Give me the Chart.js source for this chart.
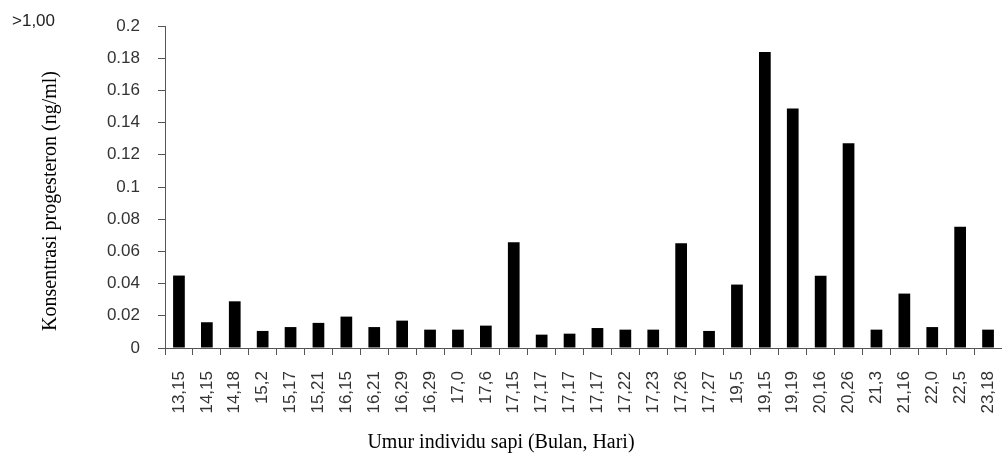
<!DOCTYPE html>
<html>
<head>
<meta charset="utf-8">
<script src="https://cdn.jsdelivr.net/npm/chart.js@4"></script>
<style>
html,body{margin:0;padding:0;background:#fff;}
#wrap{width:1002px;height:457px;position:relative;}
</style>
</head>
<body>
<div id="wrap"><canvas id="c"></canvas></div>
<script>
const categories = ['13,15','14,15','14,18','15,2','15,17','15,21','16,15','16,21','16,29','16,29','17,0','17,6','17,15','17,17','17,17','17,17','17,22','17,23','17,26','17,27','19,5','19,15','19,19','20,16','20,26','21,3','21,16','22,0','22,5','23,18'];
const progesterone = [0.045,0.016,0.029,0.0106,0.013,0.0156,0.0195,0.013,0.017,0.0114,0.0114,0.0139,0.0657,0.0083,0.0089,0.0124,0.0114,0.0114,0.065,0.0106,0.0394,0.1838,0.1487,0.0448,0.1271,0.0114,0.0338,0.013,0.0753,0.0114];
const yTickLabels = ['0','0.02','0.04','0.06','0.08','0.1','0.12','0.14','0.16','0.18','0.2'];
const yTitle = 'Konsentrasi progesteron (ng/ml)';
const xTitle = 'Umur individu sapi (Bulan, Hari)';
const cornerLabel = '>1,00';

const textPlugin = {
  id: 'texts',
  afterDraw(chart) {
    const ctx = chart.ctx;
    ctx.save();
    ctx.fillStyle = '#000';
    ctx.font = '20px "Liberation Serif", "Times New Roman", serif';
    ctx.textAlign = 'center';
    ctx.textBaseline = 'middle';
    ctx.fillText(xTitle, 501, 443);
    ctx.save();
    ctx.translate(51, 201);
    ctx.rotate(-Math.PI / 2);
    ctx.fillText(yTitle, 0, 0);
    ctx.restore();
    ctx.fillStyle = '#222';
    ctx.font = '17px "Liberation Sans", Arial, sans-serif';
    ctx.textAlign = 'left';
    ctx.textBaseline = 'alphabetic';
    ctx.fillText(cornerLabel, 12, 26);
    ctx.restore();
  }
};

new Chart(document.getElementById('c'), {
  type: 'bar',
  data: {
    labels: categories,
    datasets: [{
      data: progesterone,
      backgroundColor: '#000',
      borderWidth: 0,
      categoryPercentage: 1,
      barPercentage: 0.42
    }]
  },
  options: {
    responsive: true,
    maintainAspectRatio: false,
    animation: false,
    layout: { padding: { top: 26, left: 0, right: 0, bottom: 0 } },
    plugins: { legend: { display: false }, tooltip: { enabled: false } },
    scales: {
      x: {
        grid: { drawOnChartArea: false, drawTicks: true, tickLength: 7, color: '#555', offset: true },
        border: { display: true, color: '#555', width: 1 },
        ticks: {
          autoSkip: false, maxRotation: 90, minRotation: 90, padding: 16,
          color: '#333', font: { family: '"Liberation Sans", Arial, sans-serif', size: 17 }
        },
        afterFit(s) { s.height = 109; s.paddingLeft = 0; s.paddingRight = 0; }
      },
      y: {
        min: 0, max: 0.2,
        grid: { drawOnChartArea: false, drawTicks: true, tickLength: 7, color: '#555' },
        border: { display: true, color: '#555', width: 1 },
        ticks: {
          stepSize: 0.02, padding: 18,
          color: '#333', font: { family: '"Liberation Sans", Arial, sans-serif', size: 17 },
          callback: (v, i) => yTickLabels[i]
        },
        afterFit(s) { s.width = 165; s.paddingTop = 0; s.paddingBottom = 0; }
      }
    }
  },
  plugins: [textPlugin]
});
</script>
</body>
</html>
